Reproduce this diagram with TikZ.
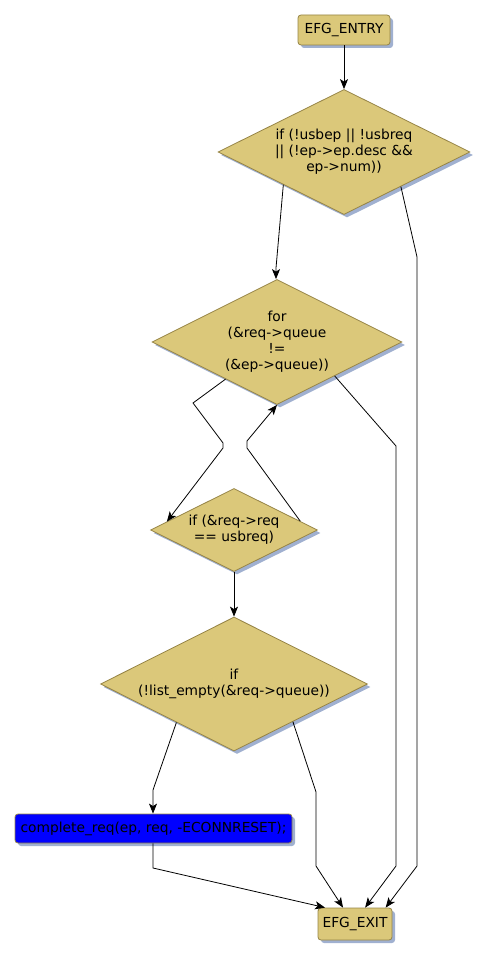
\documentclass[tikz,border=0pt]{standalone}
\usepackage{fontspec}
\setmainfont{DejaVu Sans}
\usetikzlibrary{shapes.geometric,arrows.meta,calc}
\definecolor{tan}{RGB}{219,200,122}
\definecolor{tanedge}{RGB}{150,132,70}
\definecolor{shade}{RGB}{160,176,208}
\definecolor{pureblue}{RGB}{0,0,255}
\tikzset{
  base/.style={font=\fontsize{13.8}{16}\selectfont, align=center, inner sep=0pt, draw=tanedge, line width=0.8pt},
  boxnode/.style={base, rectangle, rounded corners=3pt, fill=tan,
     preaction={fill=shade, draw=none, transform canvas={shift={(3pt,-3pt)}}}},
  bluebox/.style={boxnode, fill=pureblue},
  decision/.style={base, diamond, aspect=2, fill=tan,
     preaction={fill=shade, draw=none, transform canvas={shift={(3pt,-3pt)}}}},
  conn/.style={draw=black, line width=0.8pt, -{Stealth[length=10pt,width=8pt,inset=2.5pt]}}
}
\begin{document}
\begin{tikzpicture}[x=1pt,y=-1pt]
\useasboundingbox (0,0) rectangle (489,957);
\node[boxnode, minimum width=92pt, minimum height=30pt] (entry) at (344,30) {EFG\_ENTRY};
\node[decision, minimum width=252pt, minimum height=125pt] (d1) at (344,152) {if (!usbep || !usbreq\\|| (!ep->ep.desc \&\&\\ep->num))};
\node[decision, minimum width=250pt, minimum height=125pt] (d2) at (277,342) {for\\(\&req->queue\\!=\\(\&ep->queue))};
\node[decision, minimum width=167pt, minimum height=83pt] (d3) at (234,530) {if (\&req->req\\== usbreq)};
\node[decision, minimum width=267pt, minimum height=134pt] (d4) at (234,684) {if\\(!list\_empty(\&req->queue))};
\node[bluebox, minimum width=277pt, minimum height=29pt] (cr) at (153.5,828.5) {complete\_req(ep, req, -ECONNRESET);};
\node[boxnode, minimum width=74pt, minimum height=32pt] (exit) at (355,924) {EFG\_EXIT};

\draw[conn] (entry.south) -- (d1.north);
\draw[conn] ($(d1.west)!0.52!(d1.south)$) -- (276,268) -- (d2.north -| 276,0);
\draw[conn] ($(d1.south)!0.45!(d1.east)$) -- (417,257) -- (417,866) -- ($(exit.north)!0.82!(exit.north east)$);
\draw[conn] ($(d2.west)!0.59!(d2.south)$) -- (193,403) -- (223,443) -- (223,448) -- ($(d3.west)!0.2!(d3.north)$);
\draw[conn] ($(d3.north)!0.79!(d3.east)$) -- (247,448) -- (247,441) -- (d2.south);
\draw[conn] ($(d2.south)!0.46!(d2.east)$) -- (396,446) -- (396,866) -- ($(exit.north)!0.27!(exit.north east)$);
\draw[conn] (d3.south) -- (d4.north);
\draw[conn] ($(d4.west)!0.57!(d4.south)$) -- (153,790) -- (cr.north -| 153,0);
\draw[conn] ($(d4.south)!0.44!(d4.east)$) -- (316,792) -- (316,866) -- ($(exit.north)!0.32!(exit.north west)$);
\draw[conn] (cr.south -| 153,0) -- (153,868) -- ($(exit.north west)!0.2!(exit.north)$);
\end{tikzpicture}
\end{document}
